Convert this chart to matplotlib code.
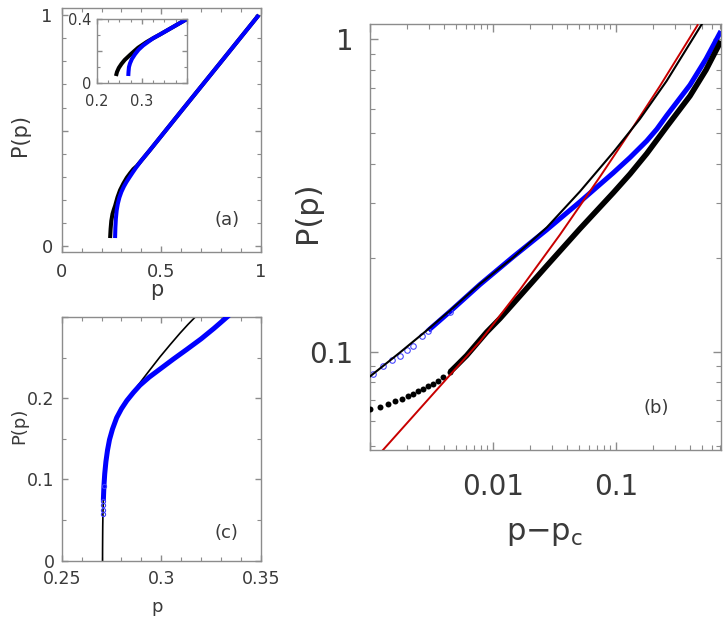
import numpy as np
import matplotlib
matplotlib.use('Agg')
import matplotlib.pyplot as plt
from matplotlib.ticker import MultipleLocator, LogLocator, NullFormatter

# ---- panel (a): P(p) vs p, two curves
a_black_p = [0.243, 0.2455, 0.249, 0.255, 0.262, 0.268, 0.280, 0.293, 0.310, 0.327, 0.345,
             0.360, 0.377, 0.40, 0.444, 0.60, 0.80, 0.99]
a_black_P = [0.036, 0.075, 0.11, 0.14, 0.16, 0.175, 0.212, 0.243, 0.272, 0.297, 0.318,
             0.334, 0.347, 0.371, 0.417, 0.584, 0.797, 1.0]
a_blue_p = [0.268, 0.2695, 0.272, 0.276, 0.282, 0.290, 0.300, 0.312, 0.325, 0.340, 0.357,
            0.377, 0.40, 0.444, 0.60, 0.80, 0.99]
a_blue_P = [0.036, 0.08, 0.12, 0.155, 0.185, 0.212, 0.236, 0.258, 0.278, 0.298, 0.320,
            0.345, 0.371, 0.417, 0.584, 0.797, 1.0]

# ---- inset of (a)
in_black_p = [0.2427, 0.245, 0.249, 0.255, 0.262, 0.2738, 0.283, 0.292, 0.3107, 0.325,
              0.340, 0.355, 0.375, 0.400]
in_black_P = [0.045, 0.07, 0.095, 0.12, 0.144, 0.175, 0.198, 0.22, 0.255, 0.278,
              0.301, 0.325, 0.357, 0.397]
in_blue_p = [0.270, 0.2705, 0.2715, 0.2738, 0.278, 0.285, 0.293, 0.3032, 0.315, 0.325,
             0.340, 0.355, 0.375, 0.400]
in_blue_P = [0.045, 0.07, 0.10, 0.123, 0.15, 0.180, 0.208, 0.234, 0.258, 0.278,
             0.301, 0.325, 0.357, 0.397]

# ---- panel (c): zoom near p_c, data (blue) and fit (black)
c_fit_p = [0.2705, 0.27052, 0.27056, 0.2706, 0.2707, 0.2709, 0.2712, 0.2716, 0.2722, 0.2730,
           0.2740, 0.2755, 0.2776, 0.2800, 0.2827, 0.2860, 0.2893, 0.2940, 0.2994, 0.3045,
           0.3094, 0.3135, 0.3175]
c_fit_P = [0.0, 0.015, 0.03, 0.042, 0.058, 0.075, 0.092, 0.107, 0.122, 0.136,
           0.149, 0.162, 0.176, 0.187, 0.197, 0.208, 0.219, 0.234, 0.251, 0.266,
           0.280, 0.291, 0.301]
c_blue_p = [0.2706, 0.2707, 0.2708, 0.2709, 0.2712, 0.2716, 0.2722, 0.2730, 0.2740, 0.2755,
            0.2776, 0.2800, 0.2827, 0.2860, 0.2893, 0.2940, 0.3000, 0.3060, 0.3128, 0.3200,
            0.3265, 0.3312, 0.334]
c_blue_P = [0.0574, 0.063, 0.068, 0.074, 0.092, 0.107, 0.122, 0.136, 0.149, 0.162,
            0.176, 0.187, 0.197, 0.207, 0.216, 0.226, 0.237, 0.248, 0.260, 0.273,
            0.286, 0.296, 0.302]

# ---- panel (b): log-log P vs p - p_c
b_blue_x = [0.00106, 0.00128, 0.0015, 0.00175, 0.00199, 0.00225, 0.00263, 0.00298, 0.00447,
            0.00783, 0.01462, 0.0274, 0.0510, 0.0951, 0.130, 0.178, 0.215, 0.2582, 0.3999,
            0.5395, 0.714]
b_blue_y = [0.0851, 0.0904, 0.0942, 0.0973, 0.101, 0.1047, 0.1127, 0.1170, 0.1345,
            0.1641, 0.2015, 0.2459, 0.3021, 0.3739, 0.4185, 0.4732, 0.516, 0.570, 0.7145,
            0.865, 1.063]
b_fit_x = [0.001, 0.001754, 0.00298, 0.004467, 0.00783, 0.01462, 0.0274, 0.0510, 0.0951,
           0.1567, 0.2582, 0.357, 0.498]
b_fit_y = [0.0834, 0.0995, 0.1182, 0.1355, 0.1649, 0.2005, 0.2501, 0.326, 0.435,
           0.5564, 0.7358, 0.904, 1.117]
b_dots_x = [0.00100, 0.00121, 0.00141, 0.00160, 0.00181, 0.00205, 0.00225, 0.00247, 0.00271,
            0.00298, 0.00327, 0.00359, 0.00395, 0.00447]
b_dots_y = [0.0654, 0.0665, 0.0682, 0.0695, 0.0708, 0.0720, 0.0734, 0.0747, 0.0762,
            0.0775, 0.0791, 0.0806, 0.0830, 0.0861]
b_band_x = [0.00447, 0.00507, 0.00611, 0.00736, 0.00889, 0.0114, 0.01754, 0.02748, 0.05097,
            0.0951, 0.130, 0.178, 0.2582, 0.3999, 0.5395, 0.714]
b_band_y = [0.0861, 0.0904, 0.0973, 0.106, 0.1156, 0.1278, 0.1547, 0.1888, 0.2477,
            0.3228, 0.3705, 0.4308, 0.5248, 0.6589, 0.7979, 0.9876]
b_red_x = [0.001269, 0.003074, 0.007837, 0.01658, 0.03505, 0.07413, 0.1300, 0.2279, 0.4615]
b_red_y = [0.04838, 0.07145, 0.1079, 0.1581, 0.2370, 0.3632, 0.5056, 0.7091, 1.111]

GREY = '#8c8c8c'
TXT = '#3a3a3a'
BLUE = '#0000ff'
RED = '#c80000'

plt.rcParams['font.family'] = ['DejaVu Sans']


def style_axes(ax, size, padx, pady, major=4.3, minor=3.0):
    for s in ax.spines.values():
        s.set_color(GREY)
        s.set_linewidth(1.0)
    ax.tick_params(which='both', direction='in', top=True, right=True,
                   color=GREY, labelcolor=TXT, labelsize=size)
    ax.tick_params(which='major', length=major, width=1.0)
    ax.tick_params(which='minor', length=minor, width=0.8)
    ax.tick_params(axis='x', which='both', pad=padx)
    ax.tick_params(axis='y', which='both', pad=pady)


fig = plt.figure(figsize=(7.28, 6.23), dpi=100)

# (a)
ax_a = fig.add_axes([0.0848, 0.596, 0.2734, 0.3907])
ax_a.plot(a_black_p, a_black_P, color='k', lw=2.9, solid_capstyle='butt')
ax_a.plot(a_blue_p, a_blue_P, color=BLUE, lw=2.9, solid_capstyle='butt')
ax_a.set_xlim(0, 1)
ax_a.set_ylim(-0.023, 1.029)
ax_a.set_xticks([0, 0.5, 1], ['0', '0.5', '1'])
ax_a.set_yticks([0, 0.5, 1], ['0', '', '1'])
ax_a.xaxis.set_minor_locator(MultipleLocator(0.1))
ax_a.yaxis.set_minor_locator(MultipleLocator(0.1))
style_axes(ax_a, 13, 8.5, 6.5)
ax_a.set_xlabel('p', fontsize=15, color=TXT, va='center')
ax_a.set_ylabel('P(p)', fontsize=15, color=TXT, va='center')
ax_a.xaxis.set_label_coords(0.479, -0.158)
ax_a.yaxis.set_label_coords(-0.212, 0.479)
ax_a.text(0.829, 0.13, '(a)', transform=ax_a.transAxes, fontsize=13,
          color=TXT, ha='center', va='center')

# inset
ax_in = fig.add_axes([0.1328, 0.8663, 0.1240, 0.104])
ax_in.plot(in_black_p, in_black_P, color='k', lw=2.9, solid_capstyle='butt')
ax_in.plot(in_blue_p, in_blue_P, color=BLUE, lw=2.9, solid_capstyle='butt')
ax_in.set_xlim(0.2, 0.4)
ax_in.set_ylim(0, 0.4)
ax_in.set_xticks([0.2, 0.3, 0.4], ['0.2', '0.3', ''])
ax_in.set_yticks([0, 0.2, 0.4], ['0', '', '0.4'])
ax_in.xaxis.set_minor_locator(MultipleLocator(0.025))
ax_in.yaxis.set_minor_locator(MultipleLocator(0.1))
style_axes(ax_in, 10.5, 8, 3.6, major=3.5, minor=2.5)

# (c)
ax_c = fig.add_axes([0.0848, 0.100, 0.2734, 0.3912])
ax_c.plot(c_fit_p, c_fit_P, color='k', lw=1.2, zorder=2)
ax_c.plot(c_blue_p[3:], c_blue_P[3:], color=BLUE, lw=3.6, zorder=3, solid_capstyle='butt')
ax_c.plot(c_blue_p[:5], c_blue_P[:5], 'o', mfc='none', mec='#3c3cff', ms=3, mew=0.8, zorder=3)
ax_c.set_xlim(0.25, 0.35)
ax_c.set_ylim(0, 0.3)
ax_c.set_xticks([0.25, 0.3, 0.35], ['0.25', '0.3', '0.35'])
ax_c.set_yticks([0, 0.1, 0.2, 0.3], ['0', '0.1', '0.2', ''])
ax_c.xaxis.set_minor_locator(MultipleLocator(0.01))
ax_c.yaxis.set_minor_locator(MultipleLocator(0.05))
style_axes(ax_c, 12.5, 7, 5)
ax_c.set_xlabel('p', fontsize=13, color=TXT, va='center')
ax_c.set_ylabel('P(p)', fontsize=13, color=TXT, va='center')
ax_c.xaxis.set_label_coords(0.479, -0.19)
ax_c.yaxis.set_label_coords(-0.215, 0.553)
ax_c.text(0.829, 0.114, '(c)', transform=ax_c.transAxes, fontsize=13,
          color=TXT, ha='center', va='center')

# (b)
ax_b = fig.add_axes([0.5082, 0.2777, 0.4821, 0.6838])
ax_b.set_xscale('log')
ax_b.set_yscale('log')
ax_b.plot(b_blue_x[7:], b_blue_y[7:], color=BLUE, lw=3.6, zorder=2, solid_capstyle='butt')
ax_b.plot(b_blue_x[:9], b_blue_y[:9], 'o', mfc='none', mec='#4646ff', ms=4, mew=0.8, zorder=2)
ax_b.plot(b_dots_x, b_dots_y, 'o', color='k', ms=4.3, mew=0, zorder=3)
ax_b.plot(b_band_x, b_band_y, color='k', lw=4.0, zorder=3, solid_capstyle='butt')
ax_b.plot(b_red_x, b_red_y, color=RED, lw=1.4, zorder=4)
ax_b.plot(b_fit_x, b_fit_y, color='k', lw=1.5, zorder=5)
ax_b.set_xlim(0.001, 0.714)
ax_b.set_ylim(0.0485, 1.12)
ax_b.set_xticks([0.001, 0.01, 0.1], ['', '0.01', '0.1'])
ax_b.set_yticks([0.1, 1], ['0.1', '1'])
ax_b.xaxis.set_minor_locator(LogLocator(base=10, subs=np.arange(2, 10)))
ax_b.yaxis.set_minor_locator(LogLocator(base=10, subs=np.arange(2, 10)))
ax_b.xaxis.set_minor_formatter(NullFormatter())
ax_b.yaxis.set_minor_formatter(NullFormatter())
style_axes(ax_b, 20, 16.5, 12, major=6, minor=3.6)
ax_b.set_xlabel(r'p$-$p$_\mathregular{c}$', fontsize=22, color=TXT, va='center')
ax_b.set_ylabel('P(p)', fontsize=22, color=TXT, va='center')
ax_b.xaxis.set_label_coords(0.4986, -0.195)
ax_b.yaxis.set_label_coords(-0.177, 0.559)
ax_b.text(0.815, 0.0986, '(b)', transform=ax_b.transAxes, fontsize=13,
          color=TXT, ha='center', va='center')

fig.savefig('out.png', dpi=100)
plt.close(fig)
